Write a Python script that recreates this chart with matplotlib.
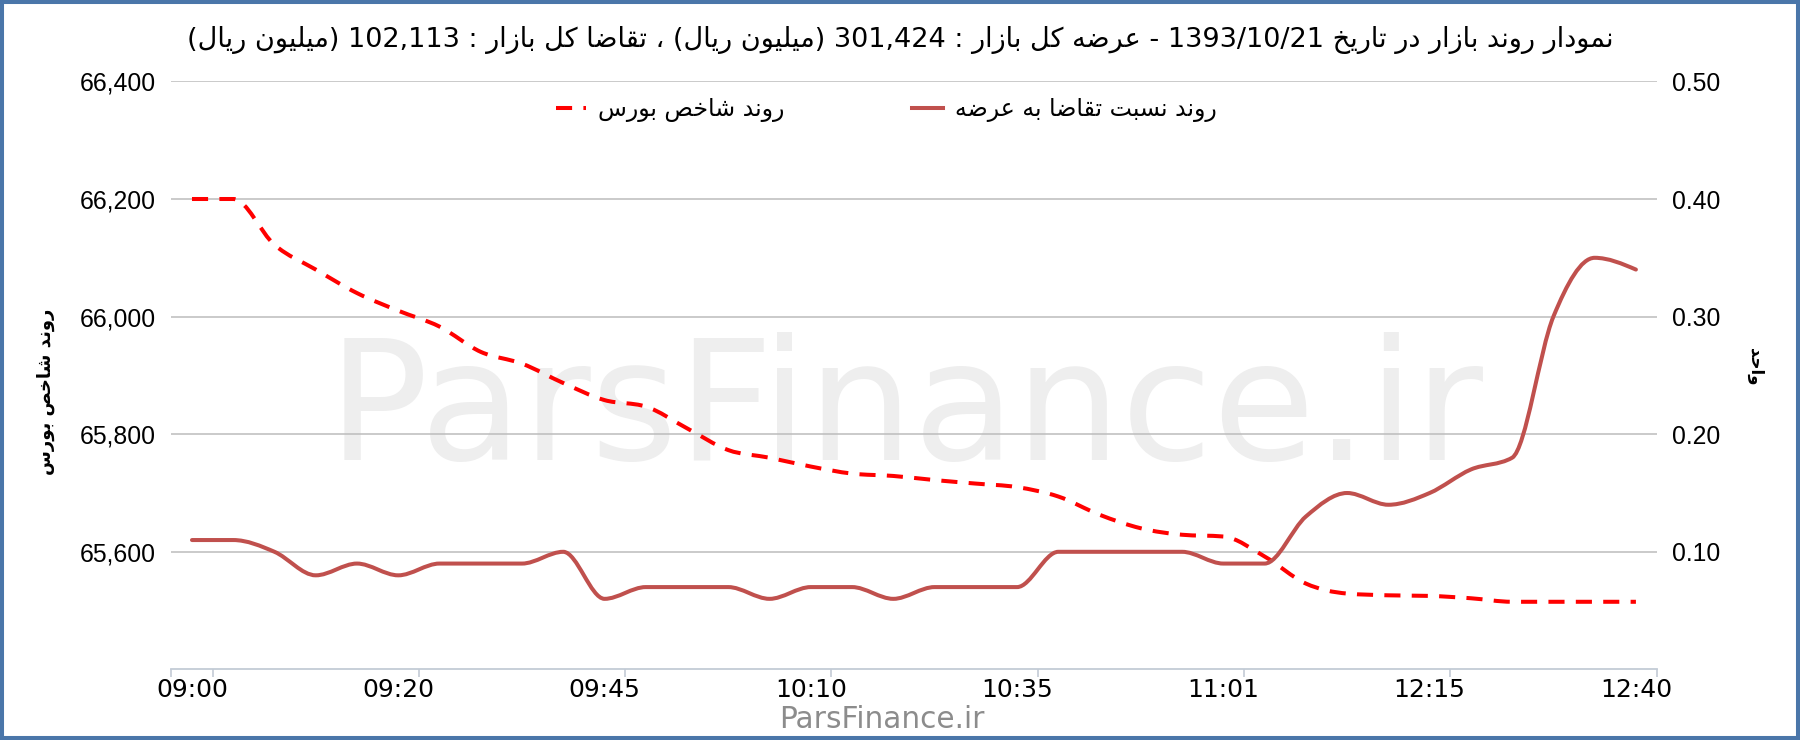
import re
import matplotlib
matplotlib.use("Agg")
import matplotlib.pyplot as plt
from matplotlib.path import Path
from matplotlib.patches import PathPatch, Rectangle
from matplotlib.lines import Line2D
from matplotlib.ticker import FixedLocator

# --- data ---
time_labels = ['09:00', '09:20', '09:45', '10:10', '10:35', '11:01', '12:15', '12:40']
label_idx = [0, 5, 10, 15, 20, 25, 30, 35]

index_vals = [66200, 66200, 66122, 66080, 66040, 66010, 65983, 65940, 65920, 65887,
              65858, 65847, 65810, 65773, 65760, 65745, 65733, 65729, 65722, 65716,
              65710, 65694, 65663, 65640, 65629, 65626, 65592, 65546, 65529, 65526,
              65525, 65521, 65515, 65515, 65515, 65515]

ratio_vals = [0.11, 0.11, 0.10, 0.08, 0.09, 0.08, 0.09, 0.09, 0.09, 0.10,
              0.06, 0.07, 0.07, 0.07, 0.06, 0.07, 0.07, 0.06, 0.07, 0.07,
              0.07, 0.10, 0.10, 0.10, 0.10, 0.09, 0.09, 0.13, 0.15, 0.14,
              0.15, 0.17, 0.18, 0.30, 0.35, 0.34]

left_ticks = [65600, 65800, 66000, 66200, 66400]
right_ticks = [0.10, 0.20, 0.30, 0.40, 0.50]

title = 'نمودار روند بازار در تاریخ 1393/10/21 - عرضه کل بازار : 301,424 (میلیون ریال) ، تقاضا کل بازار : 102,113 (میلیون ریال)'
name_index = 'روند شاخص بورس'
name_ratio = 'روند نسبت تقاضا به عرضه'
right_title = 'واحد'

# --- tiny persian shaper (matplotlib has no arabic shaping) ---
# isolated, final, initial, medial
FORMS = {
    'ا': (0xFE8D, 0xFE8E, None, None),
    'ب': (0xFE8F, 0xFE90, 0xFE91, 0xFE92),
    'ت': (0xFE95, 0xFE96, 0xFE97, 0xFE98),
    'ح': (0xFEA1, 0xFEA2, 0xFEA3, 0xFEA4),
    'خ': (0xFEA5, 0xFEA6, 0xFEA7, 0xFEA8),
    'د': (0xFEA9, 0xFEAA, None, None),
    'ر': (0xFEAD, 0xFEAE, None, None),
    'ز': (0xFEAF, 0xFEB0, None, None),
    'س': (0xFEB1, 0xFEB2, 0xFEB3, 0xFEB4),
    'ش': (0xFEB5, 0xFEB6, 0xFEB7, 0xFEB8),
    'ص': (0xFEB9, 0xFEBA, 0xFEBB, 0xFEBC),
    'ض': (0xFEBD, 0xFEBE, 0xFEBF, 0xFEC0),
    'ع': (0xFEC9, 0xFECA, 0xFECB, 0xFECC),
    'ق': (0xFED5, 0xFED6, 0xFED7, 0xFED8),
    'ل': (0xFEDD, 0xFEDE, 0xFEDF, 0xFEE0),
    'م': (0xFEE1, 0xFEE2, 0xFEE3, 0xFEE4),
    'ن': (0xFEE5, 0xFEE6, 0xFEE7, 0xFEE8),
    'ه': (0xFEE9, 0xFEEA, 0xFEEB, 0xFEEC),
    'و': (0xFEED, 0xFEEE, None, None),
    'ک': (0xFB8E, 0xFB8F, 0xFB90, 0xFB91),
    'ی': (0xFBFC, 0xFBFD, 0xFBFE, 0xFBFF),
}
MIRROR = str.maketrans('()', ')(')


def shape(s):
    out = []
    for k, c in enumerate(s):
        if c not in FORMS:
            out.append(c)
            continue
        prev = s[k - 1] if k > 0 else ''
        nxt = s[k + 1] if k + 1 < len(s) else ''
        jp = prev in FORMS and FORMS[prev][2] is not None
        jn = nxt in FORMS and FORMS[c][2] is not None
        iso, fin, ini, med = FORMS[c]
        if jp and jn:
            out.append(chr(med))
        elif jp:
            out.append(chr(fin))
        elif jn:
            out.append(chr(ini))
        else:
            out.append(chr(iso))
    return ''.join(out)


def fa(s):
    tokens = re.findall(r'[0-9][0-9,./]*[0-9]|[0-9]|[^0-9]+', shape(s))
    out = []
    for t in reversed(tokens):
        if t[0].isdigit():
            out.append(t)
        else:
            out.append(t[::-1].translate(MIRROR))
    return ''.join(out)


def sign(v):
    return (v > 0) - (v < 0)


def smooth_path(xs, ys):
    # monotone cubic smoothing: flat runs stay flat, no overshoot
    n = len(xs)
    s = [(ys[i + 1] - ys[i]) / (xs[i + 1] - xs[i]) for i in range(n - 1)]
    m = [0.0] * n
    for i in range(1, n - 1):
        p = (s[i - 1] + s[i]) / 2
        m[i] = (sign(s[i - 1]) + sign(s[i])) * min(abs(s[i - 1]), abs(s[i]), 0.5 * abs(p))
    m[0] = (3 * s[0] - m[1]) / 2
    m[-1] = (3 * s[-1] - m[-2]) / 2
    verts = [(xs[0], ys[0])]
    codes = [Path.MOVETO]
    for i in range(n - 1):
        dx = (xs[i + 1] - xs[i]) / 3
        verts += [(xs[i] + dx, ys[i] + dx * m[i]),
                  (xs[i + 1] - dx, ys[i + 1] - dx * m[i + 1]),
                  (xs[i + 1], ys[i + 1])]
        codes += [Path.CURVE4] * 3
    return Path(verts, codes)


FA_FONT = ['DejaVu Sans']
red = '#ff0000'
maroon = '#c0504d'
grid_c = '#bcbcbc'
axis_c = '#c3cbd6'
dash = (0, (4, 2.8))

fig = plt.figure(figsize=(18, 7.4), dpi=100)
ax = fig.add_axes([0.0952, 0.0954, 0.8251, 0.7946])
ax2 = ax.twinx()

x = list(range(len(index_vals)))

ax.add_patch(PathPatch(smooth_path(x, index_vals), fill=False, edgecolor=red,
                       lw=2.9, linestyle=dash, capstyle='butt', zorder=3))
ax2.add_patch(PathPatch(smooth_path(x, ratio_vals), fill=False, edgecolor=maroon,
                        lw=2.9, joinstyle='round', capstyle='round', zorder=3))

ax.set_xlim(-0.5, len(x) - 0.5)
ax.set_ylim(65400, 66400)
ax2.set_ylim(0, 0.5)

ax.set_yticks(left_ticks)
ax.set_yticklabels([f'{v:,}' for v in left_ticks])
ax2.set_yticks(right_ticks)
ax2.set_yticklabels([f'{v:.2f}' for v in right_ticks])
for a in (ax, ax2):
    a.tick_params(axis='y', length=0, labelsize=17.8, pad=11)
    for t in a.get_yticklabels():
        t.set_fontfamily(['Liberation Sans', 'DejaVu Sans'])
    for sp in a.spines.values():
        sp.set_visible(False)

ax.set_xticks(label_idx)
ax.set_xticklabels(time_labels, fontsize=18)
ax.tick_params(axis='x', which='major', length=0, pad=6)
ax.xaxis.set_minor_locator(FixedLocator([-0.5] + [i + 0.5 for i in label_idx]))
ax.tick_params(axis='x', which='minor', length=6, width=1.2, color=axis_c)
ax.spines['bottom'].set_visible(True)
ax.spines['bottom'].set_color(axis_c)
ax.spines['bottom'].set_linewidth(1.3)
ax2.tick_params(axis='x', length=0)

ax.grid(axis='y', color=grid_c, lw=1.1)
ax.set_axisbelow(True)

# watermark
ax.text(0.4947, 0.356, 'ParsFinance.ir', transform=ax.transAxes, ha='center',
        va='baseline', fontsize=120, color='#eeeeee', zorder=0)

fig.text(0.5, 1 - 40 / 740, fa(title), ha='center', va='center',
         fontsize=19.5, family=FA_FONT)

handles = [Line2D([], [], color=red, lw=2.9, linestyle=dash),
           Line2D([], [], color=maroon, lw=2.9)]
leg = ax.legend(handles, [fa(name_index), fa(name_ratio)], loc='center',
                bbox_to_anchor=(886 / 1800, 1 - 110 / 740),
                bbox_transform=fig.transFigure, ncol=2, frameon=False,
                handlelength=1.3, handletextpad=0.5, columnspacing=5.4,
                prop={'family': FA_FONT, 'size': 17})

fig.text(46 / 1800, 1 - 392 / 740, fa(name_index), rotation=90, ha='center',
         va='center', fontsize=13, weight='bold', family=FA_FONT)
fig.text(1755 / 1800, 1 - 367 / 740, fa(right_title), rotation=-90, ha='center',
         va='center', fontsize=12, weight='bold', family=FA_FONT)

fig.text(882 / 1800, 1 - 720 / 740, 'ParsFinance.ir', ha='center', va='center',
         fontsize=21.3, color='#8c8c8c')

fig.patches.append(Rectangle((0, 0), 1, 1, transform=fig.transFigure, fill=False,
                             edgecolor='#4a76a9', lw=5.8))

fig.savefig('out.png', dpi=100)
